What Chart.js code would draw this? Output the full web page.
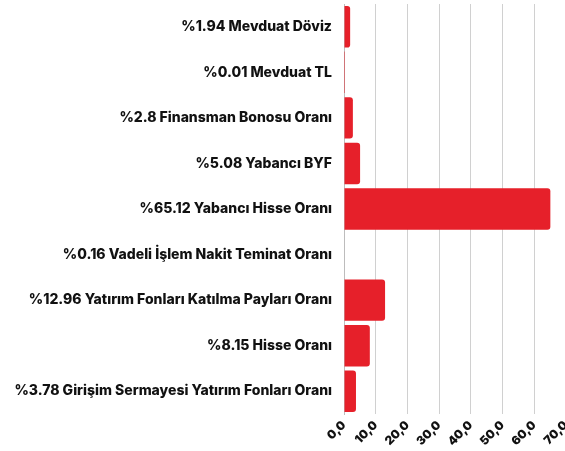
<!DOCTYPE html>
<html>
<head>
<meta charset="utf-8">
<script src="https://cdn.jsdelivr.net/npm/chart.js@4"></script>
<style>
  html, body { margin: 0; padding: 0; background: #fff; overflow: hidden; }
  #wrap { position: relative; width: 580px; height: 451px; }
</style>
</head>
<body>
<div id="wrap"><canvas id="portfoy"></canvas></div>
<script>
// portföy dağılımı
const labels = [
    '%1.94 Mevduat Döviz',
    '%0.01 Mevduat TL',
    '%2.8 Finansman Bonosu Oranı',
    '%5.08 Yabancı BYF',
    '%65.12 Yabancı Hisse Oranı',
    '%0.16 Vadeli İşlem Nakit Teminat Oranı',
    '%12.96 Yatırım Fonları Katılma Payları Oranı',
    '%8.15 Hisse Oranı',
    '%3.78 Girişim Sermayesi Yatırım Fonları Oranı'
];
const values = [1.94, 0.01, 2.8, 5.08, 65.12, 0.16, 12.96, 8.15, 3.78];
const xTicks = [0, 10, 20, 30, 40, 50, 60, 70];

var ctx = document.getElementById("portfoy");
var myChart = new Chart(ctx, {
    type: 'bar',
    data: {
        labels: labels,
        datasets: [{
            data: values,
            backgroundColor: "#e6202a",
            borderRadius: 3,
            borderSkipped: 'start',
            barPercentage: 0.91,
            categoryPercentage: 1.0
        }]
    },
    options: {
        indexAxis: 'y',
        responsive: true,
        maintainAspectRatio: false,
        animation: false,
        layout: { padding: { top: 4, right: 0, left: 0, bottom: 0 } },
        plugins: {
            legend: { display: false },
            tooltip: { enabled: false }
        },
        scales: {
            x: {
                min: xTicks[0],
                max: xTicks[xTicks.length - 1],
                afterBuildTicks: (s) => { s.ticks = xTicks.map(v => ({ value: v })); },
                afterFit: (s) => { s.height = 37; },
                grid: { color: '#d0d0d0', lineWidth: 1, drawTicks: false },
                border: { display: false },
                ticks: {
                    color: '#111',
                    padding: 4,
                    maxRotation: 45,
                    minRotation: 45,
                    font: { family: 'Inter', size: 12, weight: '900' },
                    callback: (v) => Number(v).toFixed(1).replace('.', ',')
                }
            },
            y: {
                afterFit: (s) => {
                    s.width = 344;
                    s.paddingTop = 0;
                    s.paddingBottom = 0;
                },
                grid: { display: false },
                border: { display: true, color: '#bdbdbd', width: 1 },
                ticks: {
                    color: '#111',
                    padding: 4,
                    font: { family: 'Inter', size: 14, weight: '800' }
                }
            }
        }
    }
});
</script>
</body>
</html>
